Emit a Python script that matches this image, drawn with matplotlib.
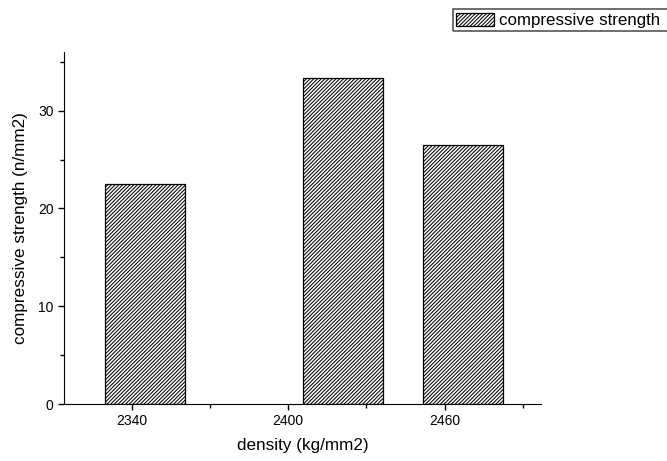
import numpy as np
import matplotlib
matplotlib.use("Agg")
import matplotlib.pyplot as plt
from matplotlib.ticker import MultipleLocator
from matplotlib.patches import Rectangle

plt.rcParams['font.family'] = ['Liberation Sans', 'DejaVu Sans']
plt.rcParams['hatch.linewidth'] = 0.75

# data
density = [2345, 2421, 2467]
strength = [22.5, 33.3, 26.45]
series_name = "compressive strength"

W, H = 667, 461
fig = plt.figure(figsize=(W/100, H/100), dpi=100)
ax = fig.add_axes([64/W, 1-404/H, (541-64)/W, (404-52)/H])

ax.bar(density, strength, width=30.5, color='white', edgecolor='black',
       linewidth=0.9, hatch='/'*9, label=series_name)

ax.set_xlim(2314, 2497)
ax.set_ylim(0, 36)
ax.xaxis.set_major_locator(MultipleLocator(60))
ax.xaxis.set_minor_locator(MultipleLocator(30))
ax.yaxis.set_major_locator(MultipleLocator(10))
ax.yaxis.set_minor_locator(MultipleLocator(5))
ax.tick_params(which='major', direction='out', length=4, width=1, labelsize=10)
ax.tick_params(which='minor', direction='out', length=3, width=1)
for s in ['top', 'right']:
    ax.spines[s].set_visible(False)

ax.set_xlabel("density (kg/mm2)", fontsize=12.3, labelpad=7)
ax.set_ylabel("compressive strength (n/mm2)", fontsize=12.3, labelpad=7)

# legend without its own frame; the frame runs off the right edge like the original
leg = fig.legend(loc='center left', bbox_to_anchor=(453/W, 1-20.5/H),
                 fontsize=12.2, frameon=False, handlelength=2.2,
                 handleheight=0.83, borderpad=0.2, handletextpad=0.3,
                 borderaxespad=0)
fig.patches.append(Rectangle((453/W, 1-31.5/H), 300/W, 22.5/H,
                             transform=fig.transFigure, fill=False,
                             edgecolor='#555555', linewidth=1.2))

fig.savefig("out.png", dpi=100)
